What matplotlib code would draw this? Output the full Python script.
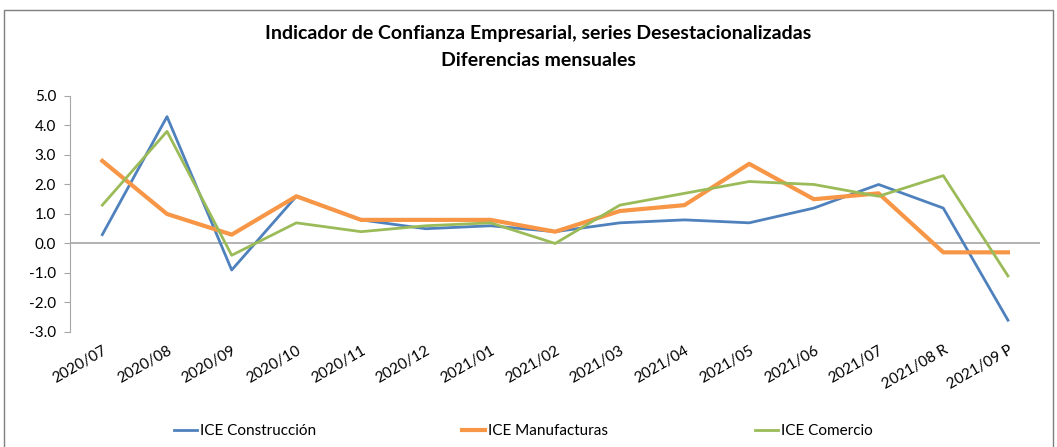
import matplotlib
matplotlib.use("Agg")
import matplotlib.pyplot as plt
from matplotlib.patches import Rectangle

plt.rcParams['font.family'] = ['Lato', 'DejaVu Sans']

meses = ["2020/07", "2020/08", "2020/09", "2020/10", "2020/11", "2020/12",
         "2021/01", "2021/02", "2021/03", "2021/04", "2021/05", "2021/06",
         "2021/07", "2021/08 R", "2021/09 P"]
construccion = [0.3, 4.3, -0.9, 1.6, 0.8, 0.5, 0.6, 0.4, 0.7, 0.8, 0.7, 1.2, 2.0, 1.2, -2.6]
manufacturas = [2.8, 1.0, 0.3, 1.6, 0.8, 0.8, 0.8, 0.4, 1.1, 1.3, 2.7, 1.5, 1.7, -0.3, -0.3]
comercio = [1.3, 3.8, -0.4, 0.7, 0.4, 0.6, 0.7, 0.0, 1.3, 1.7, 2.1, 2.0, 1.6, 2.3, -1.1]
yticks = [5.0, 4.0, 3.0, 2.0, 1.0, 0.0, -1.0, -2.0, -3.0]

fig = plt.figure(figsize=(10.57, 4.47), dpi=100)
ax = fig.add_axes([0.0662, 0.2573, 0.918, 0.528])

x = range(len(meses))
ax.axhline(0, color="#a6a6a6", lw=1.2, zorder=1)
l1, = ax.plot(x, construccion, color="#4f81bd", lw=2.0, label="ICE Construcción", zorder=2)
l2, = ax.plot(x, manufacturas, color="#f79646", lw=3.0, label="ICE Manufacturas", zorder=3)
l3, = ax.plot(x, comercio, color="#9bbb59", lw=2.0, label="ICE Comercio", zorder=4)

ax.set_xlim(-0.5, len(meses) - 0.5)
ax.set_ylim(-3.0, 5.0)
ax.set_yticks(yticks)
ax.set_yticklabels(["%.1f" % v for v in yticks], fontsize=11)
ax.set_xticks(list(x))
ax.set_xticklabels(meses, rotation=30, ha="right", rotation_mode="anchor", fontsize=11)
ax.tick_params(axis="x", length=0, pad=8)
ax.tick_params(axis="y", length=4, color="#a6a6a6", pad=6)
for s in ["top", "right", "bottom"]:
    ax.spines[s].set_visible(False)
ax.spines["left"].set_color("#a6a6a6")

fig.text(0.509, 0.925, "Indicador de Confianza Empresarial, series Desestacionalizadas",
         ha="center", va="center", fontsize=14, fontweight="bold")
fig.text(0.509, 0.865, "Diferencias mensuales", ha="center", va="center",
         fontsize=14, fontweight="bold")

fig.legend(handles=[l1, l2, l3], loc="center", bbox_to_anchor=(0.495, 0.035), ncol=3,
           frameon=False, fontsize=11, handlelength=1.5, handletextpad=0.2,
           columnspacing=9.6)

fig.patches.append(Rectangle((0.004, -0.01), 0.992, 0.988, transform=fig.transFigure,
                             fill=False, edgecolor="#7f7f7f", lw=1))

fig.savefig("out.png", dpi=100)
